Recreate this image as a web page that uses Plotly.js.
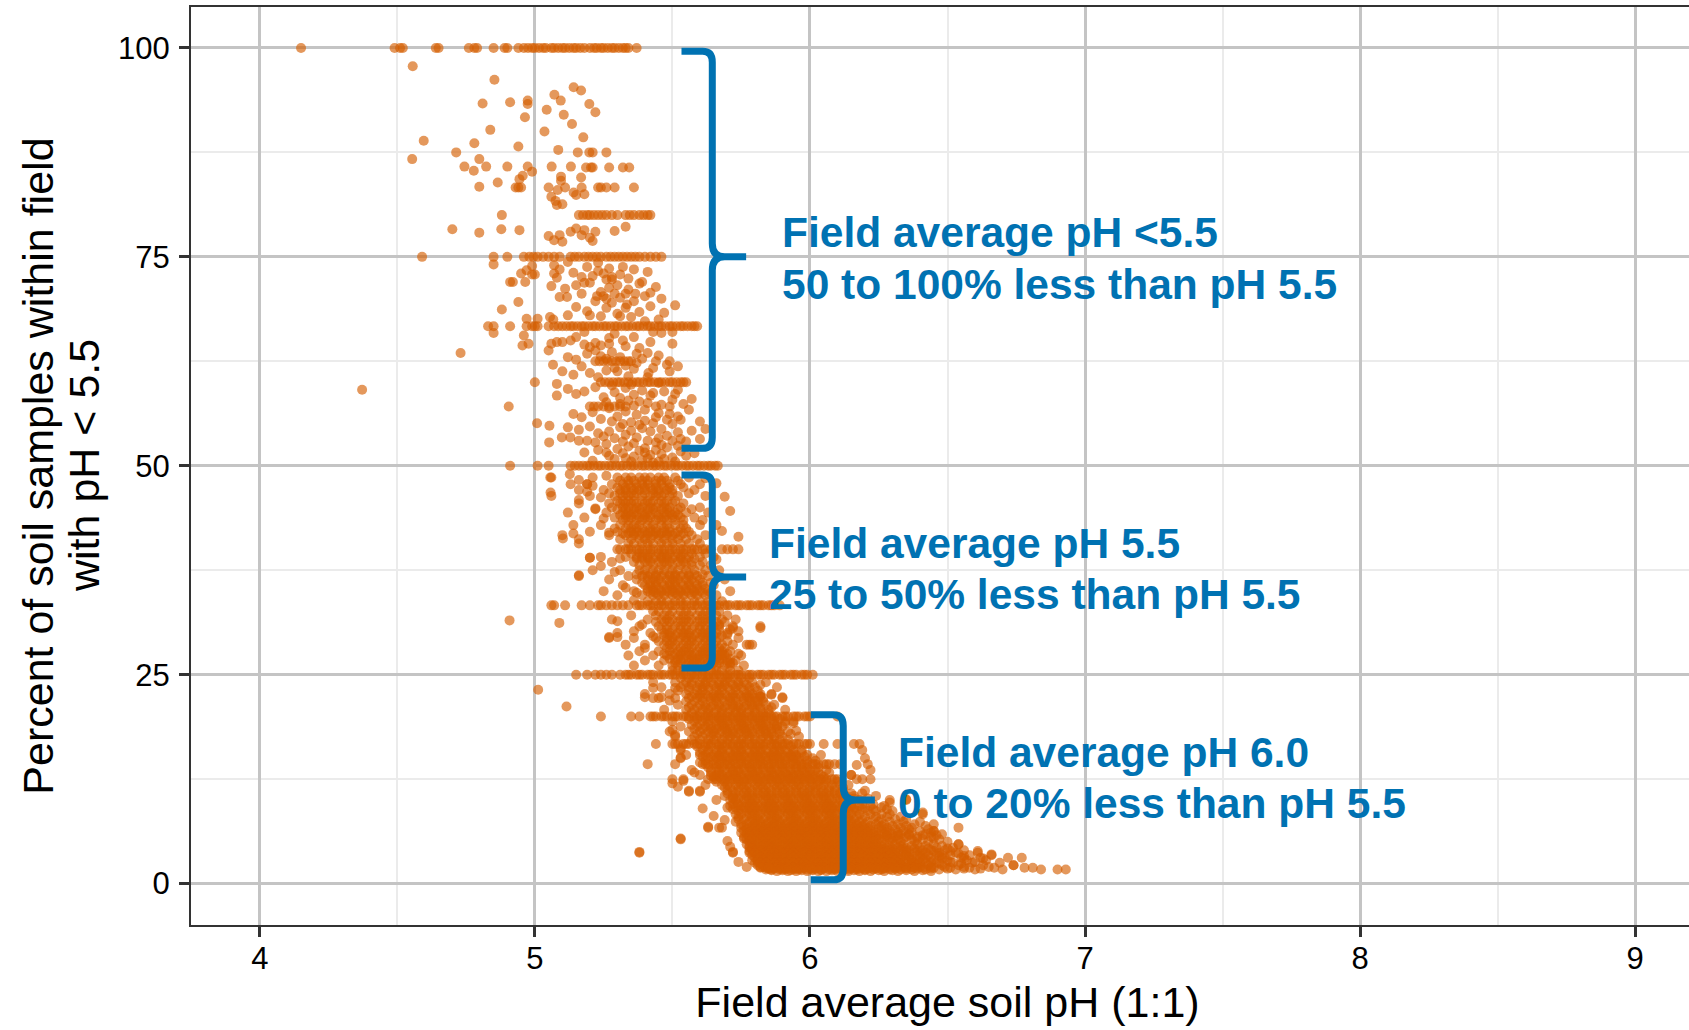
<!DOCTYPE html>
<html>
<head>
<meta charset="utf-8">
<script src="https://cdn.plot.ly/plotly-3.0.1.min.js"></script>
<style>
  html, body { margin: 0; padding: 0; overflow: hidden; background: #fff; }
  #chart { width: 1704px; height: 1030px; }
</style>
</head>
<body>
<div id="chart"></div>
<script>
// Fields whose share of samples below pH 5.5 lands on the same percentage.
// Each entry: [percent of samples < 5.5, [field average pH values]]
const topLevels = [
  [100, [4.15, 4.49, 4.51, 4.52, 4.64, 4.65, 4.76, 4.78, 4.79, 4.85, 4.89, 4.90, 4.94, 4.96, 4.975, 4.99, 5.0, 5.015, 5.03, 5.04, 5.06, 5.07, 5.085, 5.1, 5.11, 5.125, 5.14, 5.15, 5.165, 5.18, 5.2, 5.215, 5.225, 5.24, 5.25, 5.265, 5.28, 5.29, 5.305, 5.32, 5.33, 5.34, 5.37]],
  [83.3, [4.93, 4.94, 4.95, 5.05, 5.11, 5.17, 5.23, 5.24, 5.26, 5.29, 5.36]],
  [80, [4.88, 5.16, 5.175, 5.19, 5.2, 5.215, 5.23, 5.245, 5.26, 5.28, 5.3, 5.33, 5.345, 5.36, 5.38, 5.395, 5.41, 5.42]],
  [75, [4.59, 4.85, 4.90, 4.96, 4.98, 4.995, 5.01, 5.03, 5.05, 5.07, 5.09, 5.13, 5.145, 5.16, 5.18, 5.195, 5.21, 5.225, 5.24, 5.26, 5.275, 5.29, 5.305, 5.32, 5.335, 5.35, 5.365, 5.38, 5.4, 5.42, 5.44, 5.46]],
  [66.7, [4.83, 4.85, 4.91, 4.97, 4.99, 5.0, 5.01, 5.05, 5.07, 5.085, 5.1, 5.115, 5.13, 5.14, 5.155, 5.17, 5.18, 5.195, 5.21, 5.22, 5.235, 5.25, 5.26, 5.275, 5.29, 5.3, 5.315, 5.33, 5.34, 5.355, 5.37, 5.38, 5.395, 5.41, 5.42, 5.435, 5.45, 5.46, 5.475, 5.49, 5.5, 5.515, 5.53, 5.54, 5.555, 5.57, 5.58, 5.59]],
  [62.5, [5.22, 5.235, 5.25, 5.265, 5.28, 5.295, 5.31, 5.325, 5.34, 5.35, 5.44, 5.49]],
  [60, [5.0, 5.24, 5.255, 5.27, 5.285, 5.3, 5.31, 5.325, 5.34, 5.355, 5.37, 5.38, 5.395, 5.41, 5.42, 5.435, 5.45, 5.46, 5.475, 5.49, 5.5, 5.515, 5.53, 5.54, 5.55]],
  [57.1, [5.2, 5.215, 5.23, 5.25, 5.27, 5.29, 5.31, 5.33, 5.44, 5.49]],
  [50, [4.91, 5.01, 5.05, 5.13, 5.145, 5.16, 5.175, 5.19, 5.2, 5.215, 5.23, 5.24, 5.255, 5.27, 5.28, 5.295, 5.31, 5.32, 5.335, 5.35, 5.36, 5.375, 5.39, 5.4, 5.415, 5.43, 5.44, 5.455, 5.47, 5.48, 5.495, 5.51, 5.52, 5.535, 5.55, 5.56, 5.575, 5.59, 5.6, 5.615, 5.63, 5.64, 5.655, 5.665]]
];

const midLevels = [
  [48.6, [5.06, 5.21, 5.30, 5.33, 5.35, 5.38, 5.40, 5.42, 5.45, 5.47, 5.51, 5.56]],
  [48.2, [5.31, 5.34, 5.36, 5.39, 5.41, 5.44, 5.46, 5.48, 5.52]],
  [47.8, [5.13, 5.19, 5.28, 5.32, 5.34, 5.37, 5.39, 5.41, 5.44, 5.46, 5.49, 5.53, 5.60]],
  [47.4, [5.30, 5.33, 5.35, 5.37, 5.40, 5.42, 5.44, 5.47, 5.49, 5.54]],
  [47.1, [5.16, 5.25, 5.31, 5.33, 5.36, 5.38, 5.40, 5.43, 5.45, 5.48, 5.50, 5.58]],
  [46.7, [5.27, 5.31, 5.33, 5.35, 5.37, 5.40, 5.43, 5.45, 5.47, 5.50, 5.56]],
  [46.4, [5.06, 5.20, 5.29, 5.32, 5.34, 5.36, 5.39, 5.42, 5.44, 5.46, 5.49, 5.52, 5.62]],
  [45.8, [5.30, 5.32, 5.34, 5.36, 5.39, 5.41, 5.43, 5.46, 5.48, 5.51]],
  [45.5, [5.16, 5.27, 5.31, 5.33, 5.35, 5.37, 5.40, 5.42, 5.45, 5.47, 5.50, 5.54]],
  [45.0, [5.28, 5.32, 5.34, 5.37, 5.39, 5.42, 5.44, 5.47, 5.49, 5.53, 5.60]],
  [44.8, [5.22, 5.30, 5.33, 5.36, 5.38, 5.41, 5.43, 5.46, 5.48, 5.52, 5.57]],
  [44.4, [5.12, 5.26, 5.32, 5.34, 5.36, 5.39, 5.41, 5.44, 5.47, 5.49, 5.51, 5.55, 5.63]],
  [44.1, [5.31, 5.33, 5.35, 5.37, 5.40, 5.42, 5.45, 5.48, 5.50, 5.52]],
  [43.8, [5.18, 5.29, 5.33, 5.35, 5.38, 5.40, 5.42, 5.45, 5.47, 5.50, 5.53, 5.58]],
  [43.5, [5.32, 5.34, 5.37, 5.39, 5.41, 5.44, 5.46, 5.48, 5.51, 5.54, 5.61]],
  [42.9, [5.14, 5.24, 5.31, 5.34, 5.36, 5.38, 5.41, 5.43, 5.46, 5.48, 5.51, 5.54, 5.60, 5.66]],
  [42.5, [5.29, 5.33, 5.35, 5.37, 5.39, 5.42, 5.44, 5.47, 5.49, 5.53, 5.55]],
  [42.1, [5.20, 5.30, 5.35, 5.37, 5.40, 5.42, 5.44, 5.47, 5.49, 5.52, 5.56]],
  [41.9, [5.32, 5.34, 5.36, 5.39, 5.41, 5.44, 5.46, 5.48, 5.51, 5.54]],
  [41.7, [5.10, 5.27, 5.33, 5.36, 5.38, 5.41, 5.43, 5.45, 5.48, 5.50, 5.53, 5.57, 5.62]],
  [41.2, [5.16, 5.31, 5.35, 5.38, 5.40, 5.42, 5.45, 5.47, 5.50, 5.52, 5.55, 5.59]],
  [40.7, [5.34, 5.36, 5.39, 5.41, 5.43, 5.46, 5.48, 5.50, 5.53, 5.56, 5.60]],
  [40, [5.30, 5.31, 5.33, 5.34, 5.35, 5.37, 5.38, 5.39, 5.41, 5.42, 5.43, 5.45, 5.46, 5.47, 5.49, 5.50, 5.51, 5.53, 5.54, 5.55, 5.57, 5.58, 5.59, 5.61, 5.62, 5.64, 5.68, 5.70, 5.72, 5.74]],
  [39.5, [5.35, 5.38, 5.40, 5.42, 5.45, 5.47, 5.49, 5.52, 5.54, 5.57, 5.62]],
  [39.1, [5.24, 5.33, 5.37, 5.39, 5.41, 5.44, 5.46, 5.48, 5.51, 5.53, 5.56, 5.60, 5.65]],
  [38.9, [5.31, 5.37, 5.39, 5.41, 5.43, 5.46, 5.48, 5.50, 5.53, 5.55, 5.58]],
  [38.5, [5.28, 5.36, 5.40, 5.42, 5.45, 5.47, 5.49, 5.52, 5.54, 5.57, 5.61]],
  [38.1, [5.38, 5.41, 5.43, 5.46, 5.48, 5.50, 5.53, 5.55, 5.57, 5.60, 5.64]],
  [37.5, [5.21, 5.31, 5.38, 5.40, 5.43, 5.45, 5.47, 5.50, 5.52, 5.55, 5.58, 5.62, 5.67]],
  [37.0, [5.37, 5.40, 5.42, 5.44, 5.47, 5.49, 5.51, 5.54, 5.56, 5.58, 5.61]],
  [36.8, [5.16, 5.34, 5.39, 5.41, 5.44, 5.46, 5.49, 5.51, 5.53, 5.56, 5.59, 5.63]],
  [36.4, [5.27, 5.37, 5.41, 5.43, 5.45, 5.48, 5.50, 5.52, 5.55, 5.57, 5.60, 5.69]],
  [36.0, [5.39, 5.42, 5.44, 5.46, 5.49, 5.51, 5.53, 5.56, 5.58, 5.61, 5.64]],
  [35.7, [5.32, 5.40, 5.42, 5.44, 5.47, 5.49, 5.51, 5.54, 5.56, 5.59, 5.61, 5.65]],
  [35.3, [5.41, 5.43, 5.45, 5.48, 5.50, 5.52, 5.55, 5.57, 5.59, 5.62]],
  [35.0, [5.25, 5.36, 5.41, 5.43, 5.46, 5.48, 5.50, 5.53, 5.55, 5.58, 5.60, 5.63, 5.71]],
  [34.8, [5.37, 5.42, 5.44, 5.46, 5.49, 5.51, 5.53, 5.56, 5.58, 5.61, 5.64]],
  [34.5, [5.30, 5.39, 5.43, 5.45, 5.47, 5.50, 5.52, 5.54, 5.57, 5.59, 5.62, 5.66]],
  [33.8, [5.41, 5.44, 5.46, 5.48, 5.51, 5.53, 5.55, 5.58, 5.60, 5.63, 5.68]],
  [33.3, [5.06, 5.07, 5.11, 5.17, 5.20, 5.23, 5.24, 5.26, 5.28, 5.30, 5.32, 5.34, 5.37, 5.38, 5.39, 5.41, 5.42, 5.43, 5.45, 5.46, 5.47, 5.49, 5.50, 5.51, 5.53, 5.54, 5.55, 5.57, 5.58, 5.59, 5.61, 5.62, 5.63, 5.65, 5.66, 5.67, 5.69, 5.70, 5.71, 5.73, 5.74, 5.75, 5.77, 5.78, 5.79, 5.81, 5.82, 5.83, 5.85, 5.86, 5.87, 5.89]],
  [32.6, [5.43, 5.45, 5.48, 5.50, 5.53, 5.55, 5.57, 5.60, 5.62, 5.64, 5.67]],
  [32.1, [5.35, 5.44, 5.47, 5.49, 5.52, 5.54, 5.56, 5.59, 5.61, 5.63, 5.66, 5.70]],
  [31.6, [5.28, 5.41, 5.46, 5.48, 5.50, 5.53, 5.55, 5.57, 5.60, 5.62, 5.64, 5.68, 5.73]],
  [31.3, [5.44, 5.47, 5.49, 5.52, 5.54, 5.56, 5.59, 5.61, 5.63, 5.66, 5.69]],
  [30.8, [5.38, 5.45, 5.48, 5.51, 5.53, 5.55, 5.58, 5.60, 5.62, 5.65, 5.67, 5.72, 5.82]],
  [30.4, [5.46, 5.48, 5.50, 5.53, 5.55, 5.57, 5.60, 5.62, 5.64, 5.67, 5.71]],
  [30.0, [5.30, 5.42, 5.47, 5.49, 5.52, 5.54, 5.56, 5.59, 5.61, 5.63, 5.66, 5.70]],
  [29.7, [5.47, 5.49, 5.51, 5.54, 5.56, 5.58, 5.61, 5.63, 5.65, 5.68]],
  [29.4, [5.27, 5.36, 5.44, 5.48, 5.50, 5.53, 5.55, 5.57, 5.60, 5.62, 5.64, 5.67, 5.74]],
  [29.0, [5.45, 5.48, 5.50, 5.52, 5.55, 5.57, 5.59, 5.62, 5.64, 5.66, 5.70]],
  [28.6, [5.33, 5.40, 5.47, 5.49, 5.51, 5.54, 5.56, 5.58, 5.61, 5.63, 5.65, 5.68, 5.72, 5.77, 5.78, 5.79]],
  [28.2, [5.48, 5.50, 5.53, 5.55, 5.57, 5.60, 5.62, 5.64, 5.67, 5.69]],
  [27.8, [5.38, 5.45, 5.49, 5.52, 5.54, 5.56, 5.59, 5.61, 5.63, 5.66, 5.68, 5.71]],
  [27.5, [5.47, 5.51, 5.53, 5.56, 5.58, 5.61, 5.63, 5.65, 5.68, 5.70, 5.74]],
  [27.3, [5.34, 5.43, 5.48, 5.50, 5.53, 5.55, 5.57, 5.60, 5.62, 5.64, 5.67, 5.69, 5.75]],
  [26.9, [5.49, 5.52, 5.54, 5.57, 5.59, 5.61, 5.64, 5.66, 5.68, 5.71]],
  [26.7, [5.40, 5.47, 5.51, 5.53, 5.56, 5.58, 5.60, 5.63, 5.65, 5.67, 5.70, 5.73]],
  [26.4, [5.51, 5.53, 5.56, 5.58, 5.60, 5.63, 5.65, 5.67, 5.70, 5.72]],
  [26.1, [5.36, 5.45, 5.50, 5.52, 5.55, 5.57, 5.59, 5.62, 5.64, 5.66, 5.69, 5.71, 5.76]],
  [25.5, [5.50, 5.52, 5.54, 5.57, 5.59, 5.61, 5.64, 5.66, 5.68, 5.71, 5.74]],
  [25, [5.15, 5.19, 5.22, 5.24, 5.26, 5.28, 5.31, 5.33, 5.34, 5.35, 5.37, 5.38, 5.39, 5.41, 5.42, 5.43, 5.45, 5.46, 5.47, 5.49, 5.50, 5.51, 5.53, 5.54, 5.55, 5.57, 5.58, 5.59, 5.61, 5.62, 5.63, 5.65, 5.66, 5.67, 5.69, 5.70, 5.71, 5.73, 5.74, 5.75, 5.77, 5.78, 5.79, 5.81, 5.82, 5.83, 5.85, 5.86, 5.87, 5.89, 5.90, 5.91, 5.93, 5.94, 5.95, 5.97, 5.98, 5.99, 6.01]]
];

const lowLevels = [
  [24.6, [5.53, 5.56, 5.58, 5.61, 5.63, 5.65, 5.68, 5.70, 5.72, 5.75, 5.78]],
  [24.1, [5.43, 5.51, 5.55, 5.57, 5.60, 5.62, 5.64, 5.67, 5.69, 5.71, 5.74, 5.76, 5.79, 5.84]],
  [23.8, [5.54, 5.57, 5.60, 5.62, 5.65, 5.67, 5.69, 5.72, 5.74, 5.77, 5.82]],
  [23.5, [5.46, 5.53, 5.56, 5.59, 5.61, 5.63, 5.66, 5.68, 5.70, 5.73, 5.75, 5.78, 5.80, 5.88]],
  [23.1, [5.52, 5.56, 5.59, 5.61, 5.63, 5.66, 5.68, 5.71, 5.73, 5.76, 5.78, 5.81]],
  [22.7, [5.40, 5.49, 5.55, 5.58, 5.60, 5.62, 5.65, 5.67, 5.69, 5.72, 5.74, 5.77, 5.79, 5.82, 5.86]],
  [22.4, [5.57, 5.60, 5.63, 5.65, 5.67, 5.70, 5.72, 5.75, 5.77, 5.79, 5.82]],
  [22.2, [5.43, 5.45, 5.51, 5.56, 5.59, 5.61, 5.64, 5.66, 5.68, 5.71, 5.73, 5.76, 5.78, 5.80, 5.83, 5.90]],
  [21.8, [5.55, 5.58, 5.61, 5.64, 5.66, 5.69, 5.71, 5.73, 5.76, 5.78, 5.81, 5.83]],
  [21.4, [5.52, 5.57, 5.60, 5.62, 5.65, 5.67, 5.70, 5.72, 5.74, 5.77, 5.79, 5.81, 5.84, 5.87]],
  [21.1, [5.56, 5.59, 5.62, 5.64, 5.67, 5.69, 5.72, 5.74, 5.76, 5.79, 5.82, 5.86]],
  [20.8, [5.47, 5.55, 5.58, 5.61, 5.63, 5.66, 5.68, 5.71, 5.73, 5.75, 5.78, 5.80, 5.82, 5.85, 5.91]],
  [20.4, [5.57, 5.60, 5.63, 5.65, 5.68, 5.70, 5.73, 5.75, 5.77, 5.80, 5.83, 5.85]],
  [20, [5.24, 5.35, 5.38, 5.42, 5.43, 5.44, 5.46, 5.47, 5.48, 5.50, 5.51, 5.52, 5.54, 5.55, 5.56, 5.58, 5.59, 5.60, 5.62, 5.63, 5.64, 5.66, 5.67, 5.68, 5.70, 5.71, 5.72, 5.74, 5.75, 5.76, 5.78, 5.79, 5.80, 5.82, 5.83, 5.84, 5.86, 5.87, 5.88, 5.90, 5.91, 5.92, 5.94, 5.95, 5.96, 5.98, 5.99, 6.00, 6.10]],
  [19.7, [5.56, 5.59, 5.62, 5.65, 5.67, 5.69, 5.72, 5.74, 5.76, 5.79, 5.81, 5.83, 5.86, 5.89]],
  [19.4, [5.50, 5.58, 5.61, 5.63, 5.66, 5.68, 5.70, 5.73, 5.75, 5.77, 5.80, 5.82, 5.84, 5.87, 5.91, 5.94]],
  [19.0, [5.57, 5.60, 5.63, 5.66, 5.68, 5.70, 5.73, 5.75, 5.77, 5.80, 5.82, 5.84, 5.87]],
  [18.8, [5.53, 5.59, 5.62, 5.64, 5.67, 5.69, 5.71, 5.74, 5.76, 5.78, 5.81, 5.83, 5.85, 5.88, 5.90]],
  [18.5, [5.58, 5.61, 5.64, 5.66, 5.69, 5.71, 5.74, 5.76, 5.78, 5.81, 5.83, 5.86, 5.88]],
  [18.2, [5.49, 5.56, 5.60, 5.63, 5.65, 5.68, 5.70, 5.72, 5.75, 5.77, 5.79, 5.82, 5.84, 5.86, 5.89, 5.92]],
  [17.9, [5.59, 5.62, 5.65, 5.67, 5.70, 5.72, 5.74, 5.77, 5.79, 5.82, 5.84, 5.86, 5.89, 5.93]],
  [17.6, [5.51, 5.58, 5.61, 5.64, 5.66, 5.69, 5.71, 5.73, 5.76, 5.78, 5.80, 5.83, 5.85, 5.87, 5.90, 5.96]],
  [17.2, [5.57, 5.60, 5.63, 5.65, 5.68, 5.70, 5.73, 5.75, 5.77, 5.80, 5.82, 5.85, 5.87, 5.89, 5.92]],
  [16.7, [5.44, 5.50, 5.51, 5.52, 5.54, 5.55, 5.56, 5.58, 5.59, 5.60, 5.62, 5.63, 5.64, 5.66, 5.67, 5.68, 5.70, 5.71, 5.72, 5.74, 5.75, 5.76, 5.78, 5.79, 5.80, 5.82, 5.83, 5.84, 5.86, 5.87, 5.88, 5.90, 5.91, 5.92, 5.94, 5.95, 5.96, 5.98, 5.99, 6.00, 6.05, 6.10, 6.16, 6.18]],
  [16.4, [5.59, 5.62, 5.64, 5.67, 5.69, 5.72, 5.74, 5.76, 5.79, 5.81, 5.83, 5.86, 5.88, 5.90, 5.93]],
  [16.0, [5.53, 5.61, 5.63, 5.66, 5.68, 5.70, 5.73, 5.75, 5.77, 5.80, 5.82, 5.84, 5.87, 5.89, 5.91, 5.94, 5.97]],
  [15.7, [5.60, 5.63, 5.66, 5.68, 5.71, 5.73, 5.75, 5.78, 5.80, 5.82, 5.85, 5.87, 5.89, 5.92, 5.94, 5.97]],
  [15.4, [5.55, 5.60, 5.62, 5.65, 5.67, 5.69, 5.72, 5.74, 5.76, 5.79, 5.81, 5.83, 5.86, 5.88, 5.90, 5.93, 5.95, 5.99, 6.04]],
  [15.2, [5.61, 5.64, 5.67, 5.69, 5.72, 5.74, 5.76, 5.79, 5.81, 5.84, 5.86, 5.88, 5.91, 5.93, 5.95, 5.98]],
  [15.0, [5.53, 5.63, 5.66, 5.68, 5.71, 5.73, 5.75, 5.78, 5.80, 5.82, 5.85, 5.87, 5.89, 5.92, 5.94, 5.96, 6.01]],
  [14.7, [5.62, 5.65, 5.68, 5.70, 5.72, 5.75, 5.77, 5.80, 5.82, 5.84, 5.87, 5.89, 5.91, 5.94, 5.96, 5.99, 6.02]],
  [14.3, [5.41, 5.51, 5.61, 5.62, 5.63, 5.65, 5.66, 5.67, 5.69, 5.70, 5.71, 5.73, 5.74, 5.75, 5.77, 5.78, 5.79, 5.81, 5.82, 5.83, 5.85, 5.86, 5.87, 5.89, 5.90, 5.91, 5.93, 5.94, 5.95, 5.97, 5.98, 5.99, 6.01, 6.02, 6.03, 6.05, 6.06, 6.07, 6.09, 6.11, 6.21]],
  [13.9, [5.63, 5.66, 5.68, 5.71, 5.73, 5.76, 5.78, 5.80, 5.83, 5.85, 5.87, 5.90, 5.92, 5.95, 5.97, 5.99, 6.03]],
  [13.6, [5.57, 5.64, 5.67, 5.69, 5.72, 5.74, 5.76, 5.79, 5.81, 5.83, 5.86, 5.88, 5.90, 5.93, 5.95, 5.97, 6.00, 6.02, 6.06]],
  [13.3, [5.64, 5.67, 5.70, 5.72, 5.74, 5.77, 5.79, 5.81, 5.84, 5.86, 5.89, 5.91, 5.93, 5.96, 5.98, 6.00, 6.03, 6.07]],
  [13.0, [5.60, 5.66, 5.68, 5.71, 5.73, 5.75, 5.78, 5.80, 5.82, 5.85, 5.87, 5.89, 5.92, 5.94, 5.96, 5.99, 6.01, 6.04, 6.15]],
  [12.8, [5.65, 5.67, 5.70, 5.73, 5.75, 5.78, 5.80, 5.82, 5.85, 5.87, 5.90, 5.92, 5.94, 5.97, 5.99, 6.02, 6.05]],
  [12.5, [5.50, 5.54, 5.63, 5.65, 5.66, 5.68, 5.69, 5.70, 5.72, 5.73, 5.74, 5.76, 5.77, 5.78, 5.80, 5.81, 5.82, 5.84, 5.85, 5.86, 5.88, 5.89, 5.90, 5.92, 5.93, 5.94, 5.96, 5.97, 5.98, 6.00, 6.01, 6.02, 6.04, 6.05, 6.06, 6.08, 6.09, 6.10, 6.17, 6.19, 6.22]],
  [12.2, [5.66, 5.69, 5.71, 5.74, 5.76, 5.79, 5.81, 5.83, 5.86, 5.88, 5.91, 5.93, 5.95, 5.98, 6.00, 6.03, 6.06, 6.10]]
];

const baseLevels = [
  [11.8, [5.62, 5.68, 5.70, 5.73, 5.75, 5.77, 5.80, 5.82, 5.84, 5.87, 5.89, 5.91, 5.94, 5.96, 5.98, 6.01, 6.03, 6.05, 6.08, 6.11, 6.14]],
  [11.5, [5.69, 5.71, 5.74, 5.76, 5.78, 5.81, 5.83, 5.85, 5.88, 5.90, 5.92, 5.95, 5.97, 6.00, 6.02, 6.04, 6.07, 6.09, 6.12]],
  [11.1, [5.56, 5.60, 5.70, 5.72, 5.74, 5.77, 5.79, 5.81, 5.84, 5.86, 5.88, 5.91, 5.93, 5.95, 5.98, 6.00, 6.02, 6.05, 6.07, 6.09, 6.12, 6.20]],
  [10.8, [5.70, 5.73, 5.76, 5.78, 5.81, 5.83, 5.85, 5.88, 5.90, 5.92, 5.95, 5.97, 5.99, 6.02, 6.04, 6.06, 6.09, 6.11, 6.15, 6.19]],
  [10.5, [5.69, 5.72, 5.75, 5.77, 5.79, 5.82, 5.84, 5.86, 5.89, 5.91, 5.93, 5.96, 5.98, 6.00, 6.03, 6.05, 6.07, 6.10, 6.13, 6.16, 6.24]],
  [10.2, [5.72, 5.74, 5.77, 5.79, 5.81, 5.84, 5.86, 5.88, 5.91, 5.93, 5.96, 5.98, 6.00, 6.03, 6.05, 6.07, 6.10, 6.12, 6.16, 6.21]],
  [10.0, [5.71, 5.73, 5.76, 5.78, 5.80, 5.83, 5.85, 5.87, 5.90, 5.92, 5.94, 5.97, 5.99, 6.01, 6.04, 6.06, 6.08, 6.11, 6.14, 6.18, 6.29, 6.35]],
  [9.5, [5.72, 5.74, 5.77, 5.79, 5.81, 5.84, 5.86, 5.88, 5.91, 5.93, 5.95, 5.98, 6.00, 6.02, 6.05, 6.07, 6.09, 6.12, 6.15, 6.19, 6.23]],
  [9.3, [5.71, 5.75, 5.78, 5.80, 5.82, 5.85, 5.87, 5.89, 5.92, 5.94, 5.96, 5.99, 6.01, 6.03, 6.06, 6.08, 6.10, 6.13, 6.15, 6.18, 6.22, 6.27]],
  [9.1, [5.70, 5.73, 5.76, 5.78, 5.80, 5.83, 5.85, 5.87, 5.90, 5.92, 5.94, 5.97, 5.99, 6.01, 6.04, 6.06, 6.08, 6.11, 6.13, 6.16, 6.20, 6.26]],
  [8.9, [5.72, 5.75, 5.78, 5.80, 5.83, 5.85, 5.87, 5.90, 5.92, 5.94, 5.97, 5.99, 6.01, 6.04, 6.06, 6.08, 6.11, 6.13, 6.16, 6.19, 6.23, 6.28]],
  [8.7, [5.74, 5.77, 5.79, 5.81, 5.84, 5.86, 5.88, 5.91, 5.93, 5.95, 5.98, 6.00, 6.02, 6.05, 6.07, 6.09, 6.12, 6.14, 6.17, 6.21, 6.24, 6.30]],
  [8.3, [5.73, 5.75, 5.78, 5.80, 5.82, 5.85, 5.87, 5.89, 5.92, 5.94, 5.96, 5.99, 6.01, 6.03, 6.06, 6.08, 6.10, 6.13, 6.15, 6.18, 6.22, 6.26, 6.29, 6.41]],
  [8.0, [5.74, 5.77, 5.79, 5.81, 5.84, 5.86, 5.88, 5.91, 5.93, 5.95, 5.98, 6.00, 6.02, 6.05, 6.07, 6.09, 6.12, 6.14, 6.17, 6.20, 6.24, 6.28, 6.33]],
  [7.7, [5.74, 5.76, 5.79, 5.81, 5.83, 5.86, 5.88, 5.90, 5.93, 5.95, 5.97, 6.00, 6.02, 6.04, 6.07, 6.09, 6.11, 6.14, 6.16, 6.19, 6.23, 6.26, 6.31, 6.35]],
  [7.4, [5.73, 5.78, 5.80, 5.82, 5.85, 5.87, 5.89, 5.92, 5.94, 5.96, 5.99, 6.01, 6.03, 6.06, 6.08, 6.10, 6.13, 6.15, 6.18, 6.21, 6.25, 6.29, 6.34, 6.40]],
  [7.1, [5.75, 5.77, 5.80, 5.82, 5.84, 5.87, 5.89, 5.91, 5.94, 5.96, 5.98, 6.01, 6.03, 6.05, 6.08, 6.10, 6.12, 6.15, 6.17, 6.20, 6.24, 6.27, 6.32, 6.38, 6.45]],
  [6.9, [5.76, 5.79, 5.81, 5.84, 5.86, 5.88, 5.91, 5.93, 5.95, 5.98, 6.00, 6.02, 6.05, 6.07, 6.09, 6.12, 6.14, 6.17, 6.19, 6.22, 6.26, 6.30, 6.35, 6.42]],
  [6.7, [5.63, 5.67, 5.68, 5.75, 5.78, 5.80, 5.83, 5.85, 5.87, 5.90, 5.92, 5.94, 5.97, 5.99, 6.01, 6.04, 6.06, 6.08, 6.11, 6.13, 6.16, 6.18, 6.21, 6.25, 6.28, 6.33, 6.37, 6.54]],
  [6.5, [5.77, 5.80, 5.82, 5.85, 5.87, 5.89, 5.92, 5.94, 5.96, 5.99, 6.01, 6.03, 6.06, 6.08, 6.10, 6.13, 6.15, 6.18, 6.20, 6.23, 6.27, 6.31, 6.36, 6.43]],
  [6.3, [5.76, 5.79, 5.81, 5.83, 5.86, 5.88, 5.90, 5.93, 5.95, 5.97, 6.00, 6.02, 6.04, 6.07, 6.09, 6.12, 6.14, 6.17, 6.19, 6.22, 6.26, 6.29, 6.34, 6.40, 6.45]],
  [6.1, [5.75, 5.78, 5.80, 5.83, 5.85, 5.87, 5.90, 5.92, 5.94, 5.97, 5.99, 6.01, 6.04, 6.06, 6.08, 6.11, 6.13, 6.16, 6.18, 6.21, 6.24, 6.28, 6.32, 6.37, 6.44]],
  [5.9, [5.77, 5.80, 5.82, 5.84, 5.87, 5.89, 5.91, 5.94, 5.96, 5.98, 6.01, 6.03, 6.05, 6.08, 6.10, 6.13, 6.15, 6.18, 6.20, 6.23, 6.27, 6.30, 6.33, 6.36, 6.42, 6.48]],
  [5.8, [5.78, 5.81, 5.83, 5.86, 5.88, 5.90, 5.93, 5.95, 5.97, 6.00, 6.02, 6.04, 6.07, 6.09, 6.11, 6.14, 6.16, 6.19, 6.21, 6.25, 6.28, 6.32, 6.36, 6.41, 6.46]],
  [5.6, [5.76, 5.78, 5.81, 5.83, 5.85, 5.88, 5.90, 5.92, 5.95, 5.97, 5.99, 6.02, 6.04, 6.06, 6.09, 6.11, 6.14, 6.16, 6.19, 6.21, 6.24, 6.28, 6.31, 6.35, 6.39, 6.44]],
  [5.4, [5.76, 5.78, 5.81, 5.83, 5.85, 5.88, 5.90, 5.92, 5.95, 5.97, 5.99, 6.02, 6.04, 6.06, 6.09, 6.11, 6.14, 6.16, 6.19, 6.21, 6.24, 6.27, 6.30, 6.34, 6.39, 6.45]],
  [5.3, [5.53, 5.77, 5.79, 5.82, 5.84, 5.86, 5.89, 5.91, 5.93, 5.96, 5.98, 6.00, 6.03, 6.05, 6.07, 6.10, 6.12, 6.15, 6.17, 6.20, 6.22, 6.25, 6.29, 6.32, 6.37, 6.41, 6.47]],
  [5.0, [5.78, 5.80, 5.83, 5.85, 5.87, 5.90, 5.92, 5.94, 5.97, 5.99, 6.01, 6.04, 6.06, 6.08, 6.11, 6.13, 6.16, 6.18, 6.21, 6.23, 6.26, 6.30, 6.33, 6.38, 6.43, 6.50]],
  [4.7, [5.77, 5.79, 5.81, 5.84, 5.86, 5.88, 5.91, 5.93, 5.95, 5.98, 6.00, 6.02, 6.05, 6.07, 6.09, 6.12, 6.14, 6.17, 6.19, 6.22, 6.24, 6.27, 6.31, 6.34, 6.39, 6.45, 6.54]],
  [4.5, [5.78, 5.80, 5.83, 5.85, 5.87, 5.90, 5.92, 5.94, 5.97, 5.99, 6.01, 6.04, 6.06, 6.08, 6.11, 6.13, 6.16, 6.18, 6.21, 6.23, 6.26, 6.29, 6.33, 6.37, 6.42, 6.48]],
  [4.3, [5.78, 5.80, 5.82, 5.85, 5.87, 5.89, 5.92, 5.94, 5.96, 5.99, 6.01, 6.03, 6.06, 6.08, 6.10, 6.13, 6.15, 6.18, 6.20, 6.23, 6.25, 6.28, 6.32, 6.35, 6.40, 6.46, 6.52]],
  [4.2, [5.79, 5.81, 5.84, 5.86, 5.88, 5.91, 5.93, 5.95, 5.98, 6.00, 6.02, 6.05, 6.07, 6.09, 6.12, 6.14, 6.17, 6.19, 6.22, 6.24, 6.27, 6.30, 6.34, 6.38, 6.43, 6.50]],
  [4.0, [5.79, 5.81, 5.83, 5.86, 5.88, 5.90, 5.93, 5.95, 5.97, 6.00, 6.02, 6.04, 6.07, 6.09, 6.11, 6.14, 6.16, 6.19, 6.21, 6.24, 6.26, 6.29, 6.33, 6.36, 6.41, 6.44, 6.49, 6.56]],
  [3.9, [5.78, 5.80, 5.82, 5.85, 5.87, 5.89, 5.92, 5.94, 5.96, 5.99, 6.01, 6.03, 6.06, 6.08, 6.10, 6.13, 6.15, 6.18, 6.20, 6.23, 6.25, 6.28, 6.31, 6.35, 6.39, 6.45, 6.51]],
  [3.7, [5.38, 5.72, 5.78, 5.80, 5.82, 5.84, 5.87, 5.89, 5.91, 5.94, 5.96, 5.98, 6.01, 6.03, 6.05, 6.08, 6.10, 6.12, 6.15, 6.17, 6.20, 6.22, 6.25, 6.27, 6.30, 6.34, 6.38, 6.42, 6.47, 6.53, 6.61]],
  [3.6, [5.80, 5.83, 5.85, 5.87, 5.90, 5.92, 5.94, 5.97, 5.99, 6.01, 6.04, 6.06, 6.08, 6.11, 6.13, 6.16, 6.18, 6.21, 6.23, 6.26, 6.28, 6.31, 6.35, 6.40, 6.46, 6.54]],
  [3.4, [5.79, 5.81, 5.84, 5.86, 5.88, 5.91, 5.93, 5.95, 5.98, 6.00, 6.02, 6.05, 6.07, 6.09, 6.12, 6.14, 6.16, 6.19, 6.21, 6.24, 6.26, 6.29, 6.31, 6.35, 6.39, 6.43, 6.48, 6.51, 6.58, 6.66]],
  [3.3, [5.81, 5.83, 5.86, 5.88, 5.90, 5.93, 5.95, 5.97, 6.00, 6.02, 6.04, 6.07, 6.09, 6.11, 6.14, 6.16, 6.19, 6.21, 6.24, 6.26, 6.29, 6.32, 6.36, 6.41, 6.47, 6.56]],
  [3.1, [5.80, 5.82, 5.85, 5.87, 5.89, 5.92, 5.94, 5.96, 5.99, 6.01, 6.03, 6.06, 6.08, 6.10, 6.13, 6.15, 6.17, 6.20, 6.22, 6.25, 6.27, 6.30, 6.32, 6.36, 6.40, 6.44, 6.49, 6.55, 6.62, 6.72, 6.77]],
  [3.0, [5.81, 5.84, 5.86, 5.88, 5.91, 5.93, 5.95, 5.98, 6.00, 6.02, 6.05, 6.07, 6.09, 6.12, 6.14, 6.17, 6.19, 6.22, 6.24, 6.27, 6.30, 6.33, 6.37, 6.42, 6.48, 6.56, 6.63]],
  [2.8, [5.79, 5.81, 5.83, 5.86, 5.88, 5.90, 5.93, 5.95, 5.97, 6.00, 6.02, 6.04, 6.07, 6.09, 6.11, 6.14, 6.16, 6.18, 6.21, 6.23, 6.26, 6.28, 6.31, 6.33, 6.37, 6.41, 6.45, 6.50, 6.57, 6.64]],
  [2.6, [5.81, 5.83, 5.85, 5.88, 5.90, 5.92, 5.95, 5.97, 5.99, 6.02, 6.04, 6.06, 6.09, 6.11, 6.13, 6.16, 6.18, 6.21, 6.23, 6.26, 6.28, 6.31, 6.35, 6.39, 6.44, 6.51, 6.60]],
  [2.5, [5.80, 5.82, 5.84, 5.87, 5.89, 5.91, 5.94, 5.96, 5.98, 6.01, 6.03, 6.05, 6.08, 6.10, 6.12, 6.15, 6.17, 6.19, 6.22, 6.24, 6.27, 6.29, 6.32, 6.34, 6.38, 6.42, 6.46, 6.52, 6.59, 6.69]],
  [2.4, [5.82, 5.84, 5.87, 5.89, 5.91, 5.94, 5.96, 5.98, 6.01, 6.03, 6.05, 6.08, 6.10, 6.12, 6.15, 6.17, 6.20, 6.22, 6.25, 6.27, 6.30, 6.33, 6.37, 6.40, 6.47, 6.55]],
  [2.2, [5.81, 5.83, 5.85, 5.88, 5.90, 5.92, 5.95, 5.97, 5.99, 6.02, 6.04, 6.06, 6.09, 6.11, 6.13, 6.16, 6.18, 6.20, 6.23, 6.25, 6.28, 6.30, 6.33, 6.36, 6.39, 6.43, 6.48, 6.54, 6.63, 6.74]],
  [2.0, [5.83, 5.85, 5.88, 5.90, 5.92, 5.95, 5.97, 5.99, 6.02, 6.04, 6.06, 6.09, 6.11, 6.13, 6.16, 6.18, 6.21, 6.23, 6.26, 6.28, 6.31, 6.34, 6.37, 6.40, 6.44, 6.49, 6.56, 6.65]],
  [1.9, [5.82, 5.84, 5.87, 5.89, 5.91, 5.94, 5.96, 5.98, 6.01, 6.03, 6.05, 6.08, 6.10, 6.12, 6.15, 6.17, 6.19, 6.22, 6.24, 6.27, 6.29, 6.32, 6.35, 6.38, 6.41, 6.45, 6.51, 6.58, 6.67, 6.78, 6.81]],
  [1.8, [5.85, 5.87, 5.90, 5.92, 5.95, 5.97, 6.00, 6.02, 6.05, 6.08, 6.10, 6.13, 6.15, 6.18, 6.21, 6.24, 6.27, 6.31, 6.35, 6.39, 6.44, 6.50, 6.56, 6.62]],
  [1.7, [5.84, 5.86, 5.89, 5.91, 5.94, 5.96, 5.99, 6.01, 6.04, 6.07, 6.09, 6.12, 6.14, 6.17, 6.20, 6.23, 6.26, 6.29, 6.33, 6.37, 6.42, 6.47, 6.53, 6.60, 6.70, 6.84, 6.90, 6.93]],
  [1.6, [5.86, 5.90, 5.93, 5.97, 6.01, 6.04, 6.08, 6.12, 6.16, 6.20, 6.25, 6.30, 6.35, 6.41]],
  [1.5, [5.88, 5.92, 5.95, 5.99, 6.03, 6.06, 6.10, 6.14, 6.18, 6.22, 6.27, 6.32, 6.38, 6.44]]
];

// Individual fields off the common percentage levels: [field average pH, percent < 5.5]
const scattered = [
  [4.556, 97.8], [4.853, 96.2], [5.141, 95.3], [5.168, 94.9], [5.071, 94.4], [5.094, 93.7], [4.81, 93.35], [4.91, 93.5],
  [4.974, 93.7], [4.974, 93.3], [5.198, 93.3], [5.22, 92.3], [5.043, 92.6], [5.105, 92.0], [4.964, 91.7], [5.135, 90.9],
  [4.838, 90.2], [5.035, 90.0], [5.176, 89.3], [4.596, 88.9], [4.78, 88.6], [4.94, 88.2], [5.085, 87.8], [5.156, 87.5],
  [5.198, 87.5], [5.21, 87.5], [5.26, 87.5], [4.554, 86.7], [4.714, 87.5], [4.798, 86.7], [4.744, 85.8], [4.778, 85.3],
  [4.823, 85.8], [4.90, 85.8], [4.974, 85.8], [4.99, 85.2], [4.956, 84.7], [4.944, 84.3], [5.061, 85.8], [5.131, 85.8],
  [5.186, 85.7], [5.204, 85.7], [5.21, 85.7], [5.27, 85.7], [5.32, 85.7], [5.343, 85.7], [5.168, 84.5], [5.095, 84.6],
  [5.095, 84.1], [4.798, 83.4], [4.865, 83.9], [5.083, 83.0], [5.141, 82.7], [5.15, 82.4], [5.18, 82.5], [5.06, 82.2],
  [5.075, 81.7], [5.08, 81.2], [5.10, 81.3], [4.70, 78.3], [4.798, 77.9], [4.878, 78.3], [4.944, 78.2], [5.05, 77.5],
  [5.07, 77.0], [5.09, 77.6], [5.10, 76.8], [5.13, 78.0], [5.15, 78.4], [5.17, 77.6], [5.18, 78.2], [5.22, 78.0],
  [5.29, 78.1], [5.33, 78.6], [5.20, 77.3], [5.21, 76.9], [4.85, 74.1], [4.91, 72.0], [4.92, 72.0], [4.95, 73.0],
  [4.97, 73.4], [4.99, 73.9], [5.07, 74.0], [5.09, 73.5], [5.08, 72.5], [5.12, 74.4], [5.06, 71.5], [5.19, 73.8],
  [5.23, 74.3], [5.27, 73.6], [5.31, 72.9], [5.36, 73.5], [5.41, 73.2], [4.99, 72.9], [5.0, 72.9], [5.07, 73.0],
  [4.965, 72.0], [5.15, 71.6], [5.21, 72.7], [5.26, 72.3], [5.28, 72.3], [5.34, 72.4],
  [5.14, 73.1], [5.17, 72.6], [5.20, 71.9], [5.25, 73.0], [5.30, 71.6], [5.34, 71.1], [5.39, 72.0], [5.44, 71.4],
  [5.22, 69.7], [5.28, 69.5], [5.31, 70.1], [5.40, 70.3], [5.46, 70.0], [5.20, 68.0], [5.33, 68.9], [5.47, 68.3], [5.51, 69.2],
  [5.28, 72.6], [5.32, 73.8], [5.38, 71.8], [5.42, 70.7], [5.36, 69.7], [5.26, 70.0], [5.23, 73.3], [5.17, 70.6],
  [5.31, 67.9], [5.40, 67.3], [5.43, 66.0], [5.50, 66.0],
  [5.11, 71.2], [5.18, 71.9], [5.24, 70.8], [5.27, 71.3], [5.29, 70.6], [5.33, 70.6], [5.365, 70.6], [5.335, 69.3],
  [5.226, 70.3], [5.249, 70.3], [5.09, 70.2], [5.117, 70.2], [4.94, 69.6], [4.88, 68.7], [5.15, 69.0], [5.19, 68.5],
  [5.26, 68.9], [5.30, 68.2], [5.38, 68.4], [5.42, 69.1], [5.12, 68.0], [5.055, 67.8], [5.067, 67.5], [4.97, 67.6],
  [5.01, 67.6], [5.35, 67.8], [5.24, 67.9], [5.45, 67.5],
  [4.85, 65.9], [4.96, 65.6], [4.955, 64.4], [4.977, 64.6], [5.06, 64.6], [5.08, 64.8], [5.10, 64.8], [5.13, 65.0],
  [5.15, 65.4], [5.18, 64.5], [5.20, 64.2], [5.22, 64.7], [5.24, 64.4], [5.27, 64.6], [5.27, 65.3], [5.32, 65.0],
  [5.37, 63.4], [5.413, 61.1], [4.73, 63.5], [5.066, 62.1], [5.12, 63.0], [5.15, 62.7], [5.17, 61.9], [5.19, 63.4],
  [5.24, 63.1], [5.28, 63.6], [5.31, 63.0], [5.33, 62.0], [5.36, 61.6], [5.39, 62.8], [5.10, 61.3], [5.14, 60.9],
  [5.20, 61.1], [5.26, 61.4], [5.30, 61.3], [5.34, 60.7], [5.41, 60.6], [5.49, 61.3], [5.05, 63.8], [5.18, 66.0],
  [5.29, 65.8], [5.36, 65.4], [5.42, 64.8], [4.372, 59.1],
  [5.37, 62.3], [5.41, 63.5], [5.45, 63.2], [5.48, 62.1], [5.52, 61.9], [5.43, 61.7], [5.33, 64.3], [5.38, 64.1],
  [5.46, 65.9], [5.50, 64.6], [5.26, 62.8], [5.22, 63.8], [5.29, 61.7], [5.23, 60.6],
  [5.08, 59.8], [5.08, 58.4], [4.905, 57.1], [5.008, 55.1], [5.053, 54.8], [5.052, 52.8], [5.098, 53.4], [5.129, 53.4],
  [5.16, 53.0], [5.19, 53.0], [5.22, 52.8], [5.26, 52.6], [5.45, 56.3], [5.48, 55.5], [5.42, 54.1], [5.44, 52.8],
  [5.46, 51.4], [5.12, 59.2], [5.15, 58.6], [5.18, 58.9], [5.22, 59.4], [5.25, 58.2], [5.29, 58.8], [5.33, 59.3],
  [5.36, 58.5], [5.39, 59.0], [5.43, 58.7], [5.47, 58.9], [5.52, 59.1], [5.14, 56.2], [5.17, 55.8], [5.21, 56.4],
  [5.24, 55.6], [5.27, 56.9], [5.30, 55.9], [5.33, 56.5], [5.35, 55.2], [5.37, 56.1], [5.40, 55.4], [5.52, 55.9],
  [5.56, 56.7], [5.12, 54.6], [5.16, 54.3], [5.20, 54.7], [5.23, 53.9], [5.27, 54.1], [5.29, 53.3], [5.31, 54.6],
  [5.33, 53.7], [5.35, 54.2], [5.37, 53.4], [5.39, 54.5], [5.41, 53.0], [5.48, 53.6], [5.52, 54.0], [5.55, 52.9],
  [5.60, 53.2], [5.18, 51.6], [5.23, 51.9], [5.27, 51.2], [5.30, 52.0], [5.32, 51.5], [5.34, 52.3], [5.36, 51.1],
  [5.38, 51.8], [5.40, 52.1], [5.42, 51.3], [5.44, 51.9], [5.48, 52.2], [5.50, 51.0], [5.53, 51.7], [5.58, 51.5],
  [5.21, 50.6], [5.29, 50.8], [5.35, 50.5], [5.39, 50.7], [5.43, 50.4], [5.47, 50.8], [5.51, 50.5],
  [5.57, 58.0], [5.54, 57.4], [5.60, 55.3], [5.62, 54.4], [5.26, 57.6], [5.34, 57.8], [5.41, 57.5], [5.45, 59.9], [5.50, 57.9],
  [5.28, 59.6], [5.31, 58.1], [5.35, 59.7], [5.38, 57.7], [5.42, 58.4], [5.46, 57.3], [5.49, 56.2], [5.51, 58.6],
  [5.44, 55.8], [5.40, 56.7], [5.36, 57.2], [5.31, 57.4], [5.28, 55.3], [5.32, 55.0], [5.38, 54.9], [5.43, 55.1],
  [5.46, 54.4], [5.50, 55.0], [5.53, 55.5], [5.45, 53.3], [5.50, 53.0], [5.53, 53.2], [5.57, 54.2], [5.25, 53.5],
  [5.32, 52.9], [5.36, 52.7], [5.40, 51.6], [5.46, 52.5], [5.52, 52.4], [5.55, 51.2], [5.26, 51.6], [5.33, 50.9],
  [5.41, 50.9], [5.45, 50.5],
  [5.056, 48.6], [5.057, 46.8], [5.127, 49.0], [5.16, 48.3], [5.19, 47.8], [5.21, 47.6], [5.16, 45.9], [5.19, 46.9],
  [5.102, 41.3], [5.14, 41.9], [5.16, 40.7], [5.20, 39.0], [5.20, 39.0], [5.16, 36.9], [5.089, 31.2], [4.908, 31.5],
  [5.27, 29.5], [5.30, 29.5], [5.36, 30.2], [5.39, 31.0], [5.40, 28.2], [5.43, 29.6], [5.67, 31.0], [5.70, 29.8],
  [5.74, 30.2], [5.82, 30.6], [5.72, 30.6], [5.68, 27.4], [5.71, 26.4], [5.66, 38.8], [5.68, 42.2], [5.71, 44.6],
  [5.69, 46.3], [5.74, 41.5], [5.66, 47.9], [5.25, 43.7], [5.22, 44.9], [5.27, 42.0], [5.24, 38.0], [5.29, 37.3],
  [5.33, 35.4], [5.36, 33.9], [5.30, 31.4], [5.24, 46.2], [5.26, 48.8], [5.62, 48.5],
  [5.012, 23.2], [5.115, 21.2], [5.43, 23.4], [5.40, 22.3], [5.46, 22.3], [5.49, 21.9], [5.51, 23.4], [5.82, 22.4],
  [5.86, 22.6], [5.90, 22.3], [5.80, 21.8], [5.50, 18.4], [5.51, 17.8], [5.88, 19.0], [5.91, 19.2], [5.94, 19.2],
  [5.95, 18.3], [5.53, 16.2], [5.53, 15.1], [5.60, 14.5], [5.50, 12.0], [5.52, 11.6], [5.54, 12.3], [5.56, 11.0],
  [5.60, 11.0], [5.72, 10.2], [5.74, 9.4], [5.63, 6.8], [5.53, 5.4], [5.38, 3.8], [5.72, 3.8], [5.77, 2.0],
  [5.82, 2.0], [5.85, 1.9], [6.29, 9.7], [6.35, 10.1], [6.41, 8.5], [6.45, 6.3], [6.54, 4.7], [6.61, 3.9],
  [6.66, 3.5], [6.74, 2.2], [6.15, 13.0], [6.17, 14.2], [6.20, 15.0], [6.19, 16.0], [6.22, 13.6], [5.61, 9.0],
  [5.65, 8.1], [5.66, 10.0], [5.69, 7.6], [5.70, 5.1], [5.71, 4.4], [5.74, 2.6], [5.64, 12.9], [5.58, 13.3]
];

// Curly braces grouping the fields: x = [end tips, spine, point], y = [top, point, bottom]
const braceX = [[5.533, 5.645, 5.768], [5.533, 5.645, 5.768], [6.003, 6.121, 6.236]];
const braceY = [[99.6, 75.0, 52.1], [48.9, 36.7, 25.8], [20.2, 10.0, 0.45]];

// Two-line labels beside each brace, with [left pH, line 1 percent, line 2 percent]
const labelLines = [
  ['Field average pH &lt;5.5', '50 to 100% less than pH 5.5'],
  ['Field average pH 5.5', '25 to 50% less than pH 5.5'],
  ['Field average pH 6.0', '0 to 20% less than pH 5.5']
];
const labelAt = [[5.895, 77.87, 71.68], [5.846, 40.70, 34.61], [6.318, 15.69, 9.59]];

const xTicks = [4, 5, 6, 7, 8, 9];
const yTicks = [0, 25, 50, 75, 100];
const yTitleLines = ['Percent of soil samples within field', 'with pH &lt; 5.5'];

// ---- assemble point arrays ----
const ph = [], pct = [];
[topLevels, midLevels, lowLevels, baseLevels].forEach(group => {
  group.forEach(([p, values]) => values.forEach(v => { ph.push(v); pct.push(p); }));
});
scattered.forEach(([v, p]) => { ph.push(v); pct.push(p); });

const BLUE = '#0072B2';
const ORANGE = '#D55E00';
const FONT = 'Liberation Sans, Arial, Helvetica, sans-serif';

function bracePath(xs, ys) {
  const [xl, xv, xt] = xs;
  const [yt, ym, yb] = ys;
  const d = 0.035, c = 1.3, cm = 1.6, e = 0.045;
  return 'M' + xl + ',' + yt +
    ' L' + (xv - d) + ',' + yt +
    ' Q' + xv + ',' + yt + ' ' + xv + ',' + (yt - c) +
    ' L' + xv + ',' + (ym + cm) +
    ' Q' + xv + ',' + ym + ' ' + (xv + e) + ',' + ym +
    ' L' + xt + ',' + ym +
    ' M' + xt + ',' + ym +
    ' L' + (xv + e) + ',' + ym +
    ' Q' + xv + ',' + ym + ' ' + xv + ',' + (ym - cm) +
    ' L' + xv + ',' + (yb + c) +
    ' Q' + xv + ',' + yb + ' ' + (xv - d) + ',' + yb +
    ' L' + xl + ',' + yb;
}

const shapes = braceX.map((xs, i) => ({
  type: 'path', xref: 'x', yref: 'y',
  path: bracePath(xs, braceY[i]),
  line: { color: BLUE, width: 7 },
  fillcolor: 'rgba(0,0,0,0)',
  layer: 'above'
}));

const annotations = [];
labelLines.forEach((lines, i) => {
  const [x, y1, y2] = labelAt[i];
  [[lines[0], y1], [lines[1], y2]].forEach(([t, y]) => {
    annotations.push({
      xref: 'x', yref: 'y', x: x, y: y, text: t, showarrow: false,
      xanchor: 'left', yanchor: 'middle', borderpad: 0,
      font: { family: FONT, size: 42.5, color: BLUE, weight: 'bold' }
    });
  });
});

// y-axis title, two tightly spaced lines
const plotLeft = 191, plotWidth = 1513;
[37.7, 84].forEach((px, i) => {
  annotations.push({
    xref: 'paper', yref: 'paper', x: (px - plotLeft) / plotWidth, y: 0.5,
    text: yTitleLines[i], showarrow: false, textangle: -90,
    xanchor: 'center', yanchor: 'middle', borderpad: 0,
    font: { family: FONT, size: 43, color: '#000' }
  });
});

const trace = {
  type: 'scatter', mode: 'markers',
  x: ph, y: pct,
  marker: { size: 10, color: ORANGE, opacity: 0.64, line: { width: 0 } },
  hoverinfo: 'skip'
};

const axisCommon = {
  showline: true, mirror: true, linecolor: '#333333', linewidth: 2,
  ticks: 'outside', ticklen: 10, tickwidth: 3, tickcolor: '#333333',
  showgrid: true, gridcolor: '#c4c4c4', gridwidth: 3,
  zeroline: false,
  tickfont: { family: FONT, size: 31, color: '#000' }
};

const layout = {
  width: 1704, height: 1030,
  margin: { l: plotLeft, r: 0, t: 7.3, b: 105, pad: 0 },
  paper_bgcolor: '#ffffff', plot_bgcolor: '#ffffff',
  showlegend: false,
  font: { family: FONT, color: '#000' },
  xaxis: Object.assign({}, axisCommon, {
    range: [3.75, 9.25], tickmode: 'array', tickvals: xTicks, ticklabelstandoff: -5,
    minor: { dtick: 0.5, tick0: 4, showgrid: true, gridcolor: '#ebebeb', gridwidth: 2, ticks: '' },
    title: { text: 'Field average soil pH (1:1)', font: { family: FONT, size: 43, color: '#000' }, standoff: 12 }
  }),
  yaxis: Object.assign({}, axisCommon, {
    range: [-4.95, 104.9], tickmode: 'array', tickvals: yTicks, ticklabelstandoff: 3,
    minor: { dtick: 12.5, tick0: 0, showgrid: true, gridcolor: '#ebebeb', gridwidth: 2, ticks: '' }
  }),
  shapes: shapes,
  annotations: annotations
};

Plotly.newPlot('chart', [trace], layout, { displayModeBar: false, staticPlot: true });
</script>
</body>
</html>
